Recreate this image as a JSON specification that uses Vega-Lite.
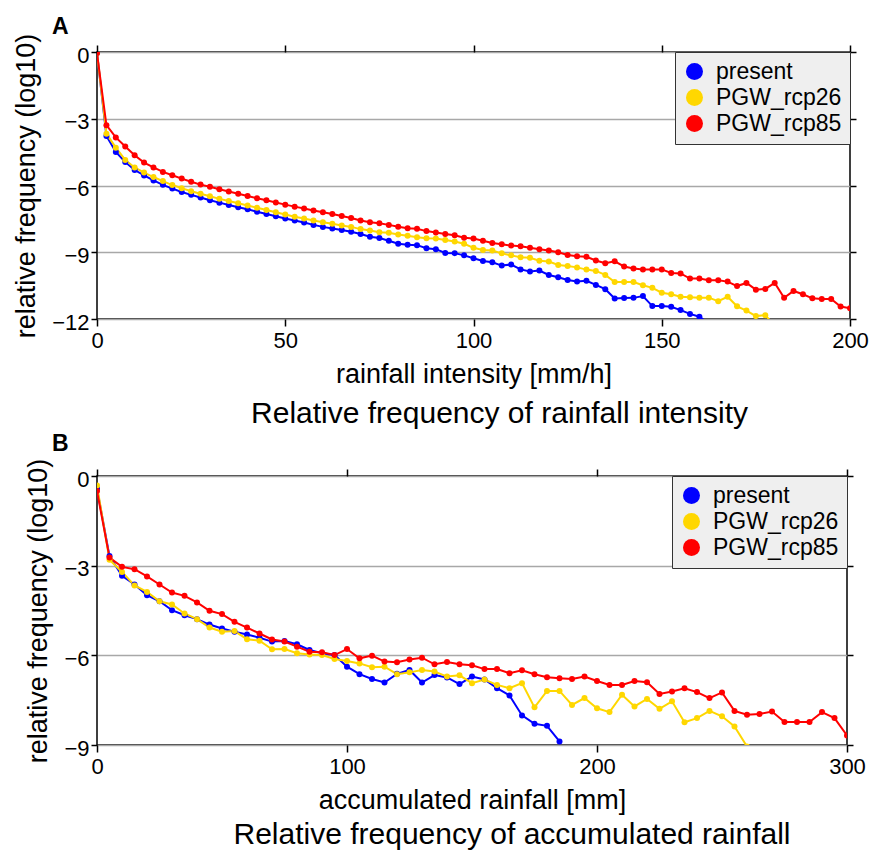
{
  "$schema": "https://vega.github.io/schema/vega-lite/v6.json",
  "background": "white",
  "padding": {"left": 11, "top": 16, "right": 0, "bottom": 0},
  "spacing": 3,
  "resolve": {"scale": {"fill": "independent", "stroke": "independent"}, "legend": {"fill": "independent", "stroke": "independent"}},
  "config": {
    "font": "Liberation Sans",
    "view": {"stroke": "black", "strokeWidth": 1.5},
    "axis": {"labelFont": "Liberation Sans", "labelFontSize": 22, "labelColor": "black", "titleFont": "Liberation Sans", "titleFontSize": 27, "titleFontWeight": "normal", "titleColor": "black", "tickColor": "black", "tickWidth": 1.5, "domain": false, "grid": false, "labelFlush": false},
    "title": {"font": "Liberation Sans", "color": "black", "fontSize": 23, "fontWeight": "bold"},
    "legend": {"orient": "top-right", "offset": 0, "padding": 8, "fillColor": "#efefef", "strokeColor": "#333333", "symbolType": "circle", "symbolSize": 289, "symbolStrokeWidth": 0, "labelFontSize": 23, "labelFont": "Liberation Sans", "labelColor": "black", "rowPadding": 2, "labelOffset": 10, "cornerRadius": 0}
  },
  "vconcat": [
    {
      "title": {"text": "A", "anchor": "start", "frame": "group", "fontSize": 23, "fontWeight": "bold", "offset": -7, "dx": -45},
      "resolve": {"scale": {"fill": "independent", "stroke": "independent"}, "legend": {"fill": "independent", "stroke": "independent"}},
      "vconcat": [
        {
          "width": 753,
          "height": 267,
          "title": {"text": "Relative frequency of rainfall intensity", "orient": "bottom", "anchor": "middle", "frame": "group", "fontSize": 30, "fontWeight": "normal", "offset": 12, "dx": 26},
          "data": {"values": [
            {"s":"present","x":0,"y":-0.05},{"s":"present","x":2.5,"y":-3.77},{"s":"present","x":5,"y":-4.49},{"s":"present","x":7.5,"y":-4.94},{"s":"present","x":10,"y":-5.3},{"s":"present","x":12.5,"y":-5.55},{"s":"present","x":15,"y":-5.77},{"s":"present","x":17.5,"y":-5.97},{"s":"present","x":20,"y":-6.14},{"s":"present","x":22.5,"y":-6.29},{"s":"present","x":25,"y":-6.42},{"s":"present","x":27.5,"y":-6.54},{"s":"present","x":30,"y":-6.66},{"s":"present","x":32.5,"y":-6.77},{"s":"present","x":35,"y":-6.88},{"s":"present","x":37.5,"y":-6.98},{"s":"present","x":40,"y":-7.07},{"s":"present","x":42.5,"y":-7.18},{"s":"present","x":45,"y":-7.28},{"s":"present","x":47.5,"y":-7.38},{"s":"present","x":50,"y":-7.48},{"s":"present","x":52.5,"y":-7.57},{"s":"present","x":55,"y":-7.66},{"s":"present","x":57.5,"y":-7.77},{"s":"present","x":60,"y":-7.86},{"s":"present","x":62.5,"y":-7.93},{"s":"present","x":65,"y":-8.0},{"s":"present","x":67.5,"y":-8.08},{"s":"present","x":70,"y":-8.18},{"s":"present","x":72.5,"y":-8.3},{"s":"present","x":75,"y":-8.36},{"s":"present","x":77.5,"y":-8.48},{"s":"present","x":80,"y":-8.62},{"s":"present","x":82.5,"y":-8.66},{"s":"present","x":85,"y":-8.68},{"s":"present","x":87.5,"y":-8.82},{"s":"present","x":90,"y":-8.86},{"s":"present","x":92.5,"y":-9.03},{"s":"present","x":95,"y":-9.04},{"s":"present","x":97.5,"y":-9.14},{"s":"present","x":100,"y":-9.27},{"s":"present","x":102.5,"y":-9.39},{"s":"present","x":105,"y":-9.45},{"s":"present","x":107.5,"y":-9.6},{"s":"present","x":110,"y":-9.55},{"s":"present","x":112.5,"y":-9.77},{"s":"present","x":115,"y":-9.86},{"s":"present","x":117.5,"y":-9.82},{"s":"present","x":120,"y":-10.02},{"s":"present","x":122.5,"y":-10.12},{"s":"present","x":125,"y":-10.25},{"s":"present","x":127.5,"y":-10.31},{"s":"present","x":130,"y":-10.28},{"s":"present","x":132.5,"y":-10.47},{"s":"present","x":135,"y":-10.66},{"s":"present","x":137.5,"y":-11.08},{"s":"present","x":140,"y":-11.06},{"s":"present","x":142.5,"y":-11.05},{"s":"present","x":145,"y":-10.97},{"s":"present","x":147.5,"y":-11.42},{"s":"present","x":150,"y":-11.42},{"s":"present","x":152.5,"y":-11.45},{"s":"present","x":155,"y":-11.6},{"s":"present","x":157.5,"y":-11.77},{"s":"present","x":160,"y":-11.9},{"s":"present","x":162.5,"y":-12.2},
            {"s":"PGW_rcp26","x":0,"y":-0.05},{"s":"PGW_rcp26","x":2.5,"y":-3.67},{"s":"PGW_rcp26","x":5,"y":-4.3},{"s":"PGW_rcp26","x":7.5,"y":-4.85},{"s":"PGW_rcp26","x":10,"y":-5.19},{"s":"PGW_rcp26","x":12.5,"y":-5.42},{"s":"PGW_rcp26","x":15,"y":-5.62},{"s":"PGW_rcp26","x":17.5,"y":-5.8},{"s":"PGW_rcp26","x":20,"y":-5.98},{"s":"PGW_rcp26","x":22.5,"y":-6.12},{"s":"PGW_rcp26","x":25,"y":-6.26},{"s":"PGW_rcp26","x":27.5,"y":-6.37},{"s":"PGW_rcp26","x":30,"y":-6.48},{"s":"PGW_rcp26","x":32.5,"y":-6.6},{"s":"PGW_rcp26","x":35,"y":-6.7},{"s":"PGW_rcp26","x":37.5,"y":-6.8},{"s":"PGW_rcp26","x":40,"y":-6.9},{"s":"PGW_rcp26","x":42.5,"y":-7.0},{"s":"PGW_rcp26","x":45,"y":-7.1},{"s":"PGW_rcp26","x":47.5,"y":-7.2},{"s":"PGW_rcp26","x":50,"y":-7.3},{"s":"PGW_rcp26","x":52.5,"y":-7.4},{"s":"PGW_rcp26","x":55,"y":-7.48},{"s":"PGW_rcp26","x":57.5,"y":-7.57},{"s":"PGW_rcp26","x":60,"y":-7.65},{"s":"PGW_rcp26","x":62.5,"y":-7.72},{"s":"PGW_rcp26","x":65,"y":-7.8},{"s":"PGW_rcp26","x":67.5,"y":-7.86},{"s":"PGW_rcp26","x":70,"y":-7.96},{"s":"PGW_rcp26","x":72.5,"y":-8.02},{"s":"PGW_rcp26","x":75,"y":-8.1},{"s":"PGW_rcp26","x":77.5,"y":-8.12},{"s":"PGW_rcp26","x":80,"y":-8.2},{"s":"PGW_rcp26","x":82.5,"y":-8.26},{"s":"PGW_rcp26","x":85,"y":-8.33},{"s":"PGW_rcp26","x":87.5,"y":-8.37},{"s":"PGW_rcp26","x":90,"y":-8.38},{"s":"PGW_rcp26","x":92.5,"y":-8.45},{"s":"PGW_rcp26","x":95,"y":-8.52},{"s":"PGW_rcp26","x":97.5,"y":-8.62},{"s":"PGW_rcp26","x":100,"y":-8.8},{"s":"PGW_rcp26","x":102.5,"y":-8.9},{"s":"PGW_rcp26","x":105,"y":-8.92},{"s":"PGW_rcp26","x":107.5,"y":-9.05},{"s":"PGW_rcp26","x":110,"y":-9.14},{"s":"PGW_rcp26","x":112.5,"y":-9.22},{"s":"PGW_rcp26","x":115,"y":-9.25},{"s":"PGW_rcp26","x":117.5,"y":-9.38},{"s":"PGW_rcp26","x":120,"y":-9.42},{"s":"PGW_rcp26","x":122.5,"y":-9.57},{"s":"PGW_rcp26","x":125,"y":-9.62},{"s":"PGW_rcp26","x":127.5,"y":-9.68},{"s":"PGW_rcp26","x":130,"y":-9.78},{"s":"PGW_rcp26","x":132.5,"y":-9.84},{"s":"PGW_rcp26","x":135,"y":-10.02},{"s":"PGW_rcp26","x":137.5,"y":-10.34},{"s":"PGW_rcp26","x":140,"y":-10.34},{"s":"PGW_rcp26","x":142.5,"y":-10.34},{"s":"PGW_rcp26","x":145,"y":-10.48},{"s":"PGW_rcp26","x":147.5,"y":-10.6},{"s":"PGW_rcp26","x":150,"y":-10.82},{"s":"PGW_rcp26","x":152.5,"y":-10.89},{"s":"PGW_rcp26","x":155,"y":-11.0},{"s":"PGW_rcp26","x":157.5,"y":-11.02},{"s":"PGW_rcp26","x":160,"y":-11.05},{"s":"PGW_rcp26","x":162.5,"y":-11.04},{"s":"PGW_rcp26","x":165,"y":-11.2},{"s":"PGW_rcp26","x":167.5,"y":-11.0},{"s":"PGW_rcp26","x":170,"y":-11.43},{"s":"PGW_rcp26","x":172.5,"y":-11.62},{"s":"PGW_rcp26","x":175,"y":-11.87},{"s":"PGW_rcp26","x":177.5,"y":-11.83},{"s":"PGW_rcp26","x":180,"y":-12.3},
            {"s":"PGW_rcp85","x":0,"y":-0.05},{"s":"PGW_rcp85","x":2.5,"y":-3.29},{"s":"PGW_rcp85","x":5,"y":-3.84},{"s":"PGW_rcp85","x":7.5,"y":-4.25},{"s":"PGW_rcp85","x":10,"y":-4.64},{"s":"PGW_rcp85","x":12.5,"y":-4.97},{"s":"PGW_rcp85","x":15,"y":-5.19},{"s":"PGW_rcp85","x":17.5,"y":-5.39},{"s":"PGW_rcp85","x":20,"y":-5.54},{"s":"PGW_rcp85","x":22.5,"y":-5.69},{"s":"PGW_rcp85","x":25,"y":-5.83},{"s":"PGW_rcp85","x":27.5,"y":-5.96},{"s":"PGW_rcp85","x":30,"y":-6.06},{"s":"PGW_rcp85","x":32.5,"y":-6.17},{"s":"PGW_rcp85","x":35,"y":-6.27},{"s":"PGW_rcp85","x":37.5,"y":-6.37},{"s":"PGW_rcp85","x":40,"y":-6.47},{"s":"PGW_rcp85","x":42.5,"y":-6.57},{"s":"PGW_rcp85","x":45,"y":-6.66},{"s":"PGW_rcp85","x":47.5,"y":-6.76},{"s":"PGW_rcp85","x":50,"y":-6.86},{"s":"PGW_rcp85","x":52.5,"y":-6.95},{"s":"PGW_rcp85","x":55,"y":-7.03},{"s":"PGW_rcp85","x":57.5,"y":-7.12},{"s":"PGW_rcp85","x":60,"y":-7.2},{"s":"PGW_rcp85","x":62.5,"y":-7.28},{"s":"PGW_rcp85","x":65,"y":-7.37},{"s":"PGW_rcp85","x":67.5,"y":-7.46},{"s":"PGW_rcp85","x":70,"y":-7.57},{"s":"PGW_rcp85","x":72.5,"y":-7.65},{"s":"PGW_rcp85","x":75,"y":-7.7},{"s":"PGW_rcp85","x":77.5,"y":-7.77},{"s":"PGW_rcp85","x":80,"y":-7.85},{"s":"PGW_rcp85","x":82.5,"y":-7.92},{"s":"PGW_rcp85","x":85,"y":-7.94},{"s":"PGW_rcp85","x":87.5,"y":-8.05},{"s":"PGW_rcp85","x":90,"y":-8.11},{"s":"PGW_rcp85","x":92.5,"y":-8.18},{"s":"PGW_rcp85","x":95,"y":-8.24},{"s":"PGW_rcp85","x":97.5,"y":-8.35},{"s":"PGW_rcp85","x":100,"y":-8.38},{"s":"PGW_rcp85","x":102.5,"y":-8.48},{"s":"PGW_rcp85","x":105,"y":-8.58},{"s":"PGW_rcp85","x":107.5,"y":-8.64},{"s":"PGW_rcp85","x":110,"y":-8.7},{"s":"PGW_rcp85","x":112.5,"y":-8.73},{"s":"PGW_rcp85","x":115,"y":-8.8},{"s":"PGW_rcp85","x":117.5,"y":-8.86},{"s":"PGW_rcp85","x":120,"y":-8.92},{"s":"PGW_rcp85","x":122.5,"y":-9.0},{"s":"PGW_rcp85","x":125,"y":-9.12},{"s":"PGW_rcp85","x":127.5,"y":-9.18},{"s":"PGW_rcp85","x":130,"y":-9.2},{"s":"PGW_rcp85","x":132.5,"y":-9.37},{"s":"PGW_rcp85","x":135,"y":-9.49},{"s":"PGW_rcp85","x":137.5,"y":-9.41},{"s":"PGW_rcp85","x":140,"y":-9.64},{"s":"PGW_rcp85","x":142.5,"y":-9.73},{"s":"PGW_rcp85","x":145,"y":-9.77},{"s":"PGW_rcp85","x":147.5,"y":-9.77},{"s":"PGW_rcp85","x":150,"y":-9.77},{"s":"PGW_rcp85","x":152.5,"y":-9.93},{"s":"PGW_rcp85","x":155,"y":-9.95},{"s":"PGW_rcp85","x":157.5,"y":-10.18},{"s":"PGW_rcp85","x":160,"y":-10.18},{"s":"PGW_rcp85","x":162.5,"y":-10.26},{"s":"PGW_rcp85","x":165,"y":-10.26},{"s":"PGW_rcp85","x":167.5,"y":-10.32},{"s":"PGW_rcp85","x":170,"y":-10.52},{"s":"PGW_rcp85","x":172.5,"y":-10.38},{"s":"PGW_rcp85","x":175,"y":-10.68},{"s":"PGW_rcp85","x":177.5,"y":-10.65},{"s":"PGW_rcp85","x":180,"y":-10.38},{"s":"PGW_rcp85","x":182.5,"y":-11.05},{"s":"PGW_rcp85","x":185,"y":-10.74},{"s":"PGW_rcp85","x":187.5,"y":-10.89},{"s":"PGW_rcp85","x":190,"y":-11.07},{"s":"PGW_rcp85","x":192.5,"y":-11.1},{"s":"PGW_rcp85","x":195,"y":-11.1},{"s":"PGW_rcp85","x":197.5,"y":-11.44},{"s":"PGW_rcp85","x":200,"y":-11.52}
          ]},
          "layer": [
            {
              "mark": {"type": "line", "strokeWidth": 2, "clip": true},
              "encoding": {
                "x": {"field": "x", "type": "quantitative", "scale": {"domain": [0, 200], "nice": false, "zero": false}, "axis": {"orient": "bottom", "values": [0, 50, 100, 150, 200], "tickSize": 7, "labelPadding": 4, "titlePadding": 10, "title": "rainfall intensity [mm/h]"}},
                "y": {"field": "y", "type": "quantitative", "scale": {"domain": [-12, 0], "nice": false, "zero": false}, "axis": {"orient": "left", "values": [0, -3, -6, -9, -12], "tickSize": 6, "labelPadding": 2, "labelOffset": 3, "titlePadding": 11, "grid": true, "gridColor": "#a8a8a8", "gridWidth": 1.5, "title": "relative frequency (log10)"}},
                "stroke": {"field": "s", "type": "nominal", "scale": {"domain": ["PGW_rcp85", "PGW_rcp26", "present"], "range": ["#ff0000", "#ffd700", "#0000ff"]}, "legend": null}
              }
            },
            {
              "mark": {"type": "point", "shape": "circle", "filled": true, "size": 36, "opacity": 1, "strokeWidth": 0, "clip": true},
              "encoding": {
                "x": {"field": "x", "type": "quantitative", "axis": {"orient": "top", "values": [0, 50, 100, 150, 200], "tickSize": 7, "labels": false, "title": null}},
                "y": {"field": "y", "type": "quantitative", "axis": {"orient": "right", "values": [0, -3, -6, -9, -12], "tickSize": 6, "labels": false, "title": null}},
                "fill": {"field": "s", "type": "nominal", "scale": {"domain": ["present", "PGW_rcp26", "PGW_rcp85"], "range": ["#0000ff", "#ffd700", "#ff0000"]}, "legend": {"title": null, "orient": "top-right"}}
              }
            }
          ],
          "resolve": {"axis": {"x": "independent", "y": "independent"}}
        }
      ]
    },
    {
      "title": {"text": "B", "anchor": "start", "frame": "group", "fontSize": 23, "fontWeight": "bold", "offset": 1, "dx": -45},
      "resolve": {"scale": {"fill": "independent", "stroke": "independent"}, "legend": {"fill": "independent", "stroke": "independent"}},
      "vconcat": [
        {
          "width": 750,
          "height": 269,
          "title": {"text": "Relative frequency of accumulated rainfall", "orient": "bottom", "anchor": "middle", "frame": "group", "fontSize": 30, "fontWeight": "normal", "offset": 7, "dx": 40},
          "data": {"values": [
            {"s":"present","x":0,"y":-0.42},{"s":"present","x":5,"y":-2.68},{"s":"present","x":10,"y":-3.34},{"s":"present","x":15,"y":-3.63},{"s":"present","x":20,"y":-3.99},{"s":"present","x":25,"y":-4.19},{"s":"present","x":30,"y":-4.49},{"s":"present","x":35,"y":-4.66},{"s":"present","x":40,"y":-4.79},{"s":"present","x":45,"y":-4.97},{"s":"present","x":50,"y":-5.1},{"s":"present","x":55,"y":-5.21},{"s":"present","x":60,"y":-5.3},{"s":"present","x":65,"y":-5.41},{"s":"present","x":70,"y":-5.54},{"s":"present","x":75,"y":-5.52},{"s":"present","x":80,"y":-5.63},{"s":"present","x":85,"y":-5.82},{"s":"present","x":90,"y":-5.93},{"s":"present","x":95,"y":-5.99},{"s":"present","x":100,"y":-6.38},{"s":"present","x":105,"y":-6.63},{"s":"present","x":110,"y":-6.79},{"s":"present","x":115,"y":-6.91},{"s":"present","x":120,"y":-6.62},{"s":"present","x":125,"y":-6.49},{"s":"present","x":130,"y":-6.91},{"s":"present","x":135,"y":-6.66},{"s":"present","x":140,"y":-6.74},{"s":"present","x":145,"y":-6.96},{"s":"present","x":150,"y":-6.71},{"s":"present","x":155,"y":-6.81},{"s":"present","x":160,"y":-7.1},{"s":"present","x":165,"y":-7.34},{"s":"present","x":170,"y":-8.01},{"s":"present","x":175,"y":-8.29},{"s":"present","x":180,"y":-8.36},{"s":"present","x":185,"y":-8.88},
            {"s":"PGW_rcp26","x":0,"y":-0.32},{"s":"PGW_rcp26","x":5,"y":-2.8},{"s":"PGW_rcp26","x":10,"y":-3.21},{"s":"PGW_rcp26","x":15,"y":-3.66},{"s":"PGW_rcp26","x":20,"y":-3.88},{"s":"PGW_rcp26","x":25,"y":-4.19},{"s":"PGW_rcp26","x":30,"y":-4.3},{"s":"PGW_rcp26","x":35,"y":-4.6},{"s":"PGW_rcp26","x":40,"y":-4.79},{"s":"PGW_rcp26","x":45,"y":-5.07},{"s":"PGW_rcp26","x":50,"y":-5.21},{"s":"PGW_rcp26","x":55,"y":-5.19},{"s":"PGW_rcp26","x":60,"y":-5.46},{"s":"PGW_rcp26","x":65,"y":-5.51},{"s":"PGW_rcp26","x":70,"y":-5.8},{"s":"PGW_rcp26","x":75,"y":-5.79},{"s":"PGW_rcp26","x":80,"y":-5.93},{"s":"PGW_rcp26","x":85,"y":-5.97},{"s":"PGW_rcp26","x":90,"y":-5.99},{"s":"PGW_rcp26","x":95,"y":-6.12},{"s":"PGW_rcp26","x":100,"y":-6.19},{"s":"PGW_rcp26","x":105,"y":-6.27},{"s":"PGW_rcp26","x":110,"y":-6.4},{"s":"PGW_rcp26","x":115,"y":-6.38},{"s":"PGW_rcp26","x":120,"y":-6.63},{"s":"PGW_rcp26","x":125,"y":-6.57},{"s":"PGW_rcp26","x":130,"y":-6.49},{"s":"PGW_rcp26","x":135,"y":-6.54},{"s":"PGW_rcp26","x":140,"y":-6.71},{"s":"PGW_rcp26","x":145,"y":-6.67},{"s":"PGW_rcp26","x":150,"y":-6.93},{"s":"PGW_rcp26","x":155,"y":-6.81},{"s":"PGW_rcp26","x":160,"y":-6.99},{"s":"PGW_rcp26","x":165,"y":-7.1},{"s":"PGW_rcp26","x":170,"y":-6.93},{"s":"PGW_rcp26","x":175,"y":-7.74},{"s":"PGW_rcp26","x":180,"y":-7.19},{"s":"PGW_rcp26","x":185,"y":-7.19},{"s":"PGW_rcp26","x":190,"y":-7.66},{"s":"PGW_rcp26","x":195,"y":-7.43},{"s":"PGW_rcp26","x":200,"y":-7.77},{"s":"PGW_rcp26","x":205,"y":-7.9},{"s":"PGW_rcp26","x":210,"y":-7.32},{"s":"PGW_rcp26","x":215,"y":-7.71},{"s":"PGW_rcp26","x":220,"y":-7.46},{"s":"PGW_rcp26","x":225,"y":-7.79},{"s":"PGW_rcp26","x":230,"y":-7.54},{"s":"PGW_rcp26","x":235,"y":-8.24},{"s":"PGW_rcp26","x":240,"y":-8.1},{"s":"PGW_rcp26","x":245,"y":-7.86},{"s":"PGW_rcp26","x":250,"y":-8.04},{"s":"PGW_rcp26","x":255,"y":-8.38},{"s":"PGW_rcp26","x":260,"y":-9.05},
            {"s":"PGW_rcp85","x":0,"y":-0.5},{"s":"PGW_rcp85","x":5,"y":-2.73},{"s":"PGW_rcp85","x":10,"y":-3.04},{"s":"PGW_rcp85","x":15,"y":-3.12},{"s":"PGW_rcp85","x":20,"y":-3.36},{"s":"PGW_rcp85","x":25,"y":-3.63},{"s":"PGW_rcp85","x":30,"y":-3.9},{"s":"PGW_rcp85","x":35,"y":-4.01},{"s":"PGW_rcp85","x":40,"y":-4.23},{"s":"PGW_rcp85","x":45,"y":-4.51},{"s":"PGW_rcp85","x":50,"y":-4.62},{"s":"PGW_rcp85","x":55,"y":-4.88},{"s":"PGW_rcp85","x":60,"y":-5.07},{"s":"PGW_rcp85","x":65,"y":-5.27},{"s":"PGW_rcp85","x":70,"y":-5.47},{"s":"PGW_rcp85","x":75,"y":-5.54},{"s":"PGW_rcp85","x":80,"y":-5.71},{"s":"PGW_rcp85","x":85,"y":-5.88},{"s":"PGW_rcp85","x":90,"y":-5.9},{"s":"PGW_rcp85","x":95,"y":-5.99},{"s":"PGW_rcp85","x":100,"y":-5.79},{"s":"PGW_rcp85","x":105,"y":-6.1},{"s":"PGW_rcp85","x":110,"y":-6.01},{"s":"PGW_rcp85","x":115,"y":-6.21},{"s":"PGW_rcp85","x":120,"y":-6.23},{"s":"PGW_rcp85","x":125,"y":-6.14},{"s":"PGW_rcp85","x":130,"y":-6.08},{"s":"PGW_rcp85","x":135,"y":-6.3},{"s":"PGW_rcp85","x":140,"y":-6.22},{"s":"PGW_rcp85","x":145,"y":-6.3},{"s":"PGW_rcp85","x":150,"y":-6.33},{"s":"PGW_rcp85","x":155,"y":-6.46},{"s":"PGW_rcp85","x":160,"y":-6.46},{"s":"PGW_rcp85","x":165,"y":-6.6},{"s":"PGW_rcp85","x":170,"y":-6.5},{"s":"PGW_rcp85","x":175,"y":-6.63},{"s":"PGW_rcp85","x":180,"y":-6.73},{"s":"PGW_rcp85","x":185,"y":-6.77},{"s":"PGW_rcp85","x":190,"y":-6.79},{"s":"PGW_rcp85","x":195,"y":-6.71},{"s":"PGW_rcp85","x":200,"y":-6.86},{"s":"PGW_rcp85","x":205,"y":-6.99},{"s":"PGW_rcp85","x":210,"y":-6.99},{"s":"PGW_rcp85","x":215,"y":-6.86},{"s":"PGW_rcp85","x":220,"y":-6.9},{"s":"PGW_rcp85","x":225,"y":-7.29},{"s":"PGW_rcp85","x":230,"y":-7.21},{"s":"PGW_rcp85","x":235,"y":-7.1},{"s":"PGW_rcp85","x":240,"y":-7.23},{"s":"PGW_rcp85","x":245,"y":-7.43},{"s":"PGW_rcp85","x":250,"y":-7.24},{"s":"PGW_rcp85","x":255,"y":-7.86},{"s":"PGW_rcp85","x":260,"y":-7.99},{"s":"PGW_rcp85","x":265,"y":-7.96},{"s":"PGW_rcp85","x":270,"y":-7.88},{"s":"PGW_rcp85","x":275,"y":-8.23},{"s":"PGW_rcp85","x":280,"y":-8.23},{"s":"PGW_rcp85","x":285,"y":-8.23},{"s":"PGW_rcp85","x":290,"y":-7.9},{"s":"PGW_rcp85","x":295,"y":-8.1},{"s":"PGW_rcp85","x":300,"y":-8.68}
          ]},
          "layer": [
            {
              "mark": {"type": "line", "strokeWidth": 2, "clip": true},
              "encoding": {
                "x": {"field": "x", "type": "quantitative", "scale": {"domain": [0, 300], "nice": false, "zero": false}, "axis": {"orient": "bottom", "values": [0, 100, 200, 300], "tickSize": 7, "labelPadding": 4, "titlePadding": 10, "title": "accumulated rainfall [mm]"}},
                "y": {"field": "y", "type": "quantitative", "scale": {"domain": [-9, 0], "nice": false, "zero": false}, "axis": {"orient": "left", "values": [0, -3, -6, -9], "tickSize": 6, "labelPadding": 2, "labelOffset": 3, "titlePadding": 11, "grid": true, "gridColor": "#a8a8a8", "gridWidth": 1.5, "title": "relative frequency (log10)"}},
                "stroke": {"field": "s", "type": "nominal", "scale": {"domain": ["PGW_rcp85", "PGW_rcp26", "present"], "range": ["#ff0000", "#ffd700", "#0000ff"]}, "legend": null}
              }
            },
            {
              "mark": {"type": "point", "shape": "circle", "filled": true, "size": 36, "opacity": 1, "strokeWidth": 0, "clip": true},
              "encoding": {
                "x": {"field": "x", "type": "quantitative", "axis": {"orient": "top", "values": [0, 100, 200, 300], "tickSize": 7, "labels": false, "title": null}},
                "y": {"field": "y", "type": "quantitative", "axis": {"orient": "right", "values": [0, -3, -6, -9], "tickSize": 6, "labels": false, "title": null}},
                "fill": {"field": "s", "type": "nominal", "scale": {"domain": ["present", "PGW_rcp26", "PGW_rcp85"], "range": ["#0000ff", "#ffd700", "#ff0000"]}, "legend": {"title": null, "orient": "top-right"}}
              }
            }
          ],
          "resolve": {"axis": {"x": "independent", "y": "independent"}}
        }
      ]
    }
  ]
}
